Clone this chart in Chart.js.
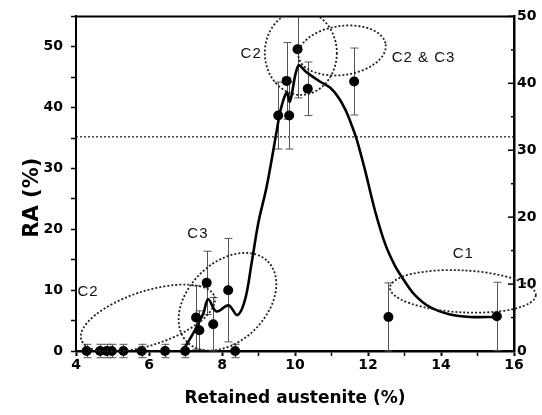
<!DOCTYPE html>
<html>
<head>
<meta charset="utf-8">
<script src="https://cdn.jsdelivr.net/npm/chart.js@4.4.1/dist/chart.umd.min.js"></script>
<style>
  html, body { margin: 0; padding: 0; background: #fff; }
  canvas { display: block; }
</style>
</head>
<body>
<canvas id="ra" width="542" height="415"></canvas>
<script>
// ── data ─────────────────────────────────────────────────────
const RA_X   = [4.29, 4.66, 4.84, 4.98, 5.30, 5.80, 6.44, 6.99, 7.29, 7.38, 7.58, 7.76, 8.17, 8.36, 9.54, 9.77, 9.84, 10.07, 10.35, 11.62, 12.56, 15.53];
const RA_Y   = [0, 0, 0, 0, 0, 0, 0, 0, 5.5, 3.4, 11.2, 4.4, 10.0, 0, 38.7, 44.4, 38.7, 49.6, 43.1, 44.3, 5.6, 5.7];
const RA_ERR = [1.1, 1.1, 1.1, 1.1, 1.1, 1.1, 1.1, 1.1, 5.2, 3.2, 5.2, 4.4, 8.5, 1.1, 5.5, 6.3, 5.5, 8.0, 4.4, 5.5, 5.6, 5.6];

const FIT_X = [6.92, 7.21, 7.49, 7.62, 7.85, 8.18, 8.42, 8.63, 8.81, 9.0, 9.22, 9.5, 9.6, 9.77, 9.86, 10.09, 10.32, 10.68, 10.96, 11.2, 11.4, 11.56, 11.7, 11.92, 12.19, 12.47, 12.74, 13.0, 13.3, 13.7, 14.25, 14.8, 15.53];
const FIT_Y = [0, 2.9, 6.2, 8.5, 6.5, 7.5, 5.9, 8.4, 14.4, 21.2, 26.9, 36.2, 39.5, 42.5, 41.0, 46.9, 45.8, 44.3, 43.3, 41.6, 39.4, 37.0, 34.6, 29.7, 23.1, 17.6, 14.0, 11.5, 9.1, 7.2, 6.0, 5.6, 5.6];

const X_LABELS  = [4, 6, 8, 10, 12, 14, 16];
const Y_LABELS  = [0, 10, 20, 30, 40, 50];
const Y1_LABELS = [0, 10, 20, 30, 40, 50];
const REF_LINE  = 35.2;

// dotted region marks (centre in data units, radii in px, rotation in deg)
const REGIONS = [
  { x: 5.97,  y: 5.4,  rx: 70, ry: 27,   rot: -18 },
  { x: 8.15,  y: 8.1,  rx: 57, ry: 39,   rot: -45 },
  { x: 10.16, y: 49.0, rx: 36, ry: 42,   rot: 0 },
  { x: 11.29, y: 49.4, rx: 44, ry: 24.5, rot: -8 },
  { x: 14.6,  y: 9.8,  rx: 73, ry: 21,   rot: 3 },
];
const REGION_LABELS = [
  { text: "C2",      x: 4.33,  y: 9.8 },
  { text: "C3",      x: 7.34,  y: 19.2 },
  { text: "C2",      x: 8.8,   y: 48.9 },
  { text: "C2 & C3", x: 13.52, y: 48.2 },
  { text: "C1",      x: 14.61, y: 16.0 },
];

const TICK_FONT = { family: "DejaVu Sans", weight: "bold", size: 14 };

// ── overlay: frame, ref line, error bars, regions ───────────
const overlay = {
  id: "overlay",
  beforeDatasetsDraw(chart) {
    const { ctx, chartArea: a, scales: { x, y, y1 } } = chart;
    ctx.save();
    // dotted reference line
    ctx.strokeStyle = "#222"; ctx.lineWidth = 1.3; ctx.setLineDash([2, 2]);
    const ry = y.getPixelForValue(REF_LINE);
    ctx.beginPath(); ctx.moveTo(a.left, ry); ctx.lineTo(a.right, ry); ctx.stroke();
    ctx.setLineDash([]);
    // error bars
    ctx.beginPath(); ctx.rect(a.left - 10, a.top, a.right - a.left + 20, chart.height - a.top); ctx.clip();
    ctx.strokeStyle = "#555"; ctx.lineWidth = 1;
    RA_X.forEach((v, i) => {
      const px = Math.round(x.getPixelForValue(v)) + 0.5;
      const t = y.getPixelForValue(RA_Y[i] + RA_ERR[i]);
      const b = y.getPixelForValue(RA_Y[i] - RA_ERR[i]);
      ctx.beginPath();
      ctx.moveTo(px, t); ctx.lineTo(px, b);
      ctx.moveTo(px - 4, t); ctx.lineTo(px + 4, t);
      ctx.moveTo(px - 4, b); ctx.lineTo(px + 4, b);
      ctx.stroke();
    });
    ctx.restore();
    // top frame + inward ticks on the right axis
    ctx.save();
    ctx.strokeStyle = "#000"; ctx.lineWidth = 2;
    ctx.beginPath(); ctx.moveTo(a.left - 1, a.top); ctx.lineTo(a.right + 1, a.top); ctx.stroke();
    ctx.lineWidth = 1.5;
    y1.ticks.forEach(t => {
      const py = y1.getPixelForValue(t.value);
      const len = t.value % 10 === 0 ? 6 : 3;
      ctx.beginPath(); ctx.moveTo(a.right - len, py); ctx.lineTo(a.right, py); ctx.stroke();
    });
    ctx.restore();
    // left axis title
    ctx.save();
    ctx.translate(33, (a.top + a.bottom) / 2 + 14);
    ctx.rotate(-Math.PI / 2);
    ctx.fillStyle = "#000";
    ctx.font = 'bold 21px "DejaVu Sans"';
    ctx.textAlign = "center"; ctx.textBaseline = "middle";
    ctx.fillText("RA (%)", 0, 0);
    ctx.restore();
  },
  afterDatasetsDraw(chart) {
    const { ctx, chartArea: a, scales: { x, y } } = chart;
    ctx.save();
    ctx.beginPath(); ctx.rect(0, a.top, chart.width, chart.height - a.top); ctx.clip();
    ctx.strokeStyle = "#222"; ctx.lineWidth = 1.8; ctx.setLineDash([2, 2]);
    REGIONS.forEach(r => {
      ctx.beginPath();
      ctx.ellipse(x.getPixelForValue(r.x), y.getPixelForValue(r.y), r.rx, r.ry, r.rot * Math.PI / 180, 0, Math.PI * 2);
      ctx.stroke();
    });
    ctx.restore();
    ctx.save();
    ctx.fillStyle = "#111";
    ctx.font = '15px "Liberation Sans"';
    ctx.letterSpacing = "1px";
    ctx.textAlign = "center"; ctx.textBaseline = "middle";
    REGION_LABELS.forEach(l => ctx.fillText(l.text, x.getPixelForValue(l.x), y.getPixelForValue(l.y)));
    ctx.restore();
  }
};

new Chart(document.getElementById("ra"), {
  type: "scatter",
  data: {
    datasets: [
      {
        type: "line",
        data: FIT_X.map((v, i) => ({ x: v, y: FIT_Y[i] })),
        borderColor: "#000", borderWidth: 2.6,
        pointRadius: 0, fill: false,
        tension: 0.35,
      },
      {
        data: RA_X.map((v, i) => ({ x: v, y: RA_Y[i] })),
        backgroundColor: "#000", borderColor: "#000",
        pointRadius: 5, pointBorderWidth: 0,
        clip: false,
      },
    ],
  },
  options: {
    responsive: false, animation: false, devicePixelRatio: 1,
    layout: { padding: { top: 14 } },
    plugins: { legend: { display: false }, tooltip: { enabled: false } },
    scales: {
      x: {
        type: "linear", min: 4, max: 16,
        afterFit: s => { s.height = 64; },
        border: { color: "#000", width: 2.5 },
        grid: { drawOnChartArea: false, tickLength: 5, tickColor: "#000", tickWidth: c => (c.tick && c.tick.value % 2 === 0 ? 2 : 1.5) },
        ticks: { stepSize: 1, autoSkip: false, maxRotation: 0, padding: 1, color: "#000", font: TICK_FONT,
                 callback: v => (X_LABELS.includes(v) ? v : "") },
        title: { display: true, text: "Retained austenite (%)", color: "#000",
                 font: { family: "DejaVu Sans", weight: "bold", size: 17 }, padding: { bottom: 6 } },
      },
      y: {
        position: "left", min: 0, max: 55,
        afterFit: s => { s.width = 76; },
        border: { color: "#000", width: 2 },
        grid: { drawOnChartArea: false, tickLength: 5, tickColor: "#000", tickWidth: 1.5 },
        ticks: { stepSize: 5, autoSkip: false, padding: 8, color: "#000", font: TICK_FONT,
                 callback: v => (Y_LABELS.includes(v) ? v : "") },
      },
      y1: {
        position: "right", min: 0, max: 50,
        afterFit: s => { s.width = 28; },
        border: { color: "#000", width: 2.5 },
        grid: { drawOnChartArea: false, drawTicks: false },
        ticks: { stepSize: 5, autoSkip: false, padding: 3, color: "#000", font: TICK_FONT,
                 callback: v => (Y1_LABELS.includes(v) ? v : "") },
      },
    },
  },
  plugins: [overlay],
});
</script>
</body>
</html>
